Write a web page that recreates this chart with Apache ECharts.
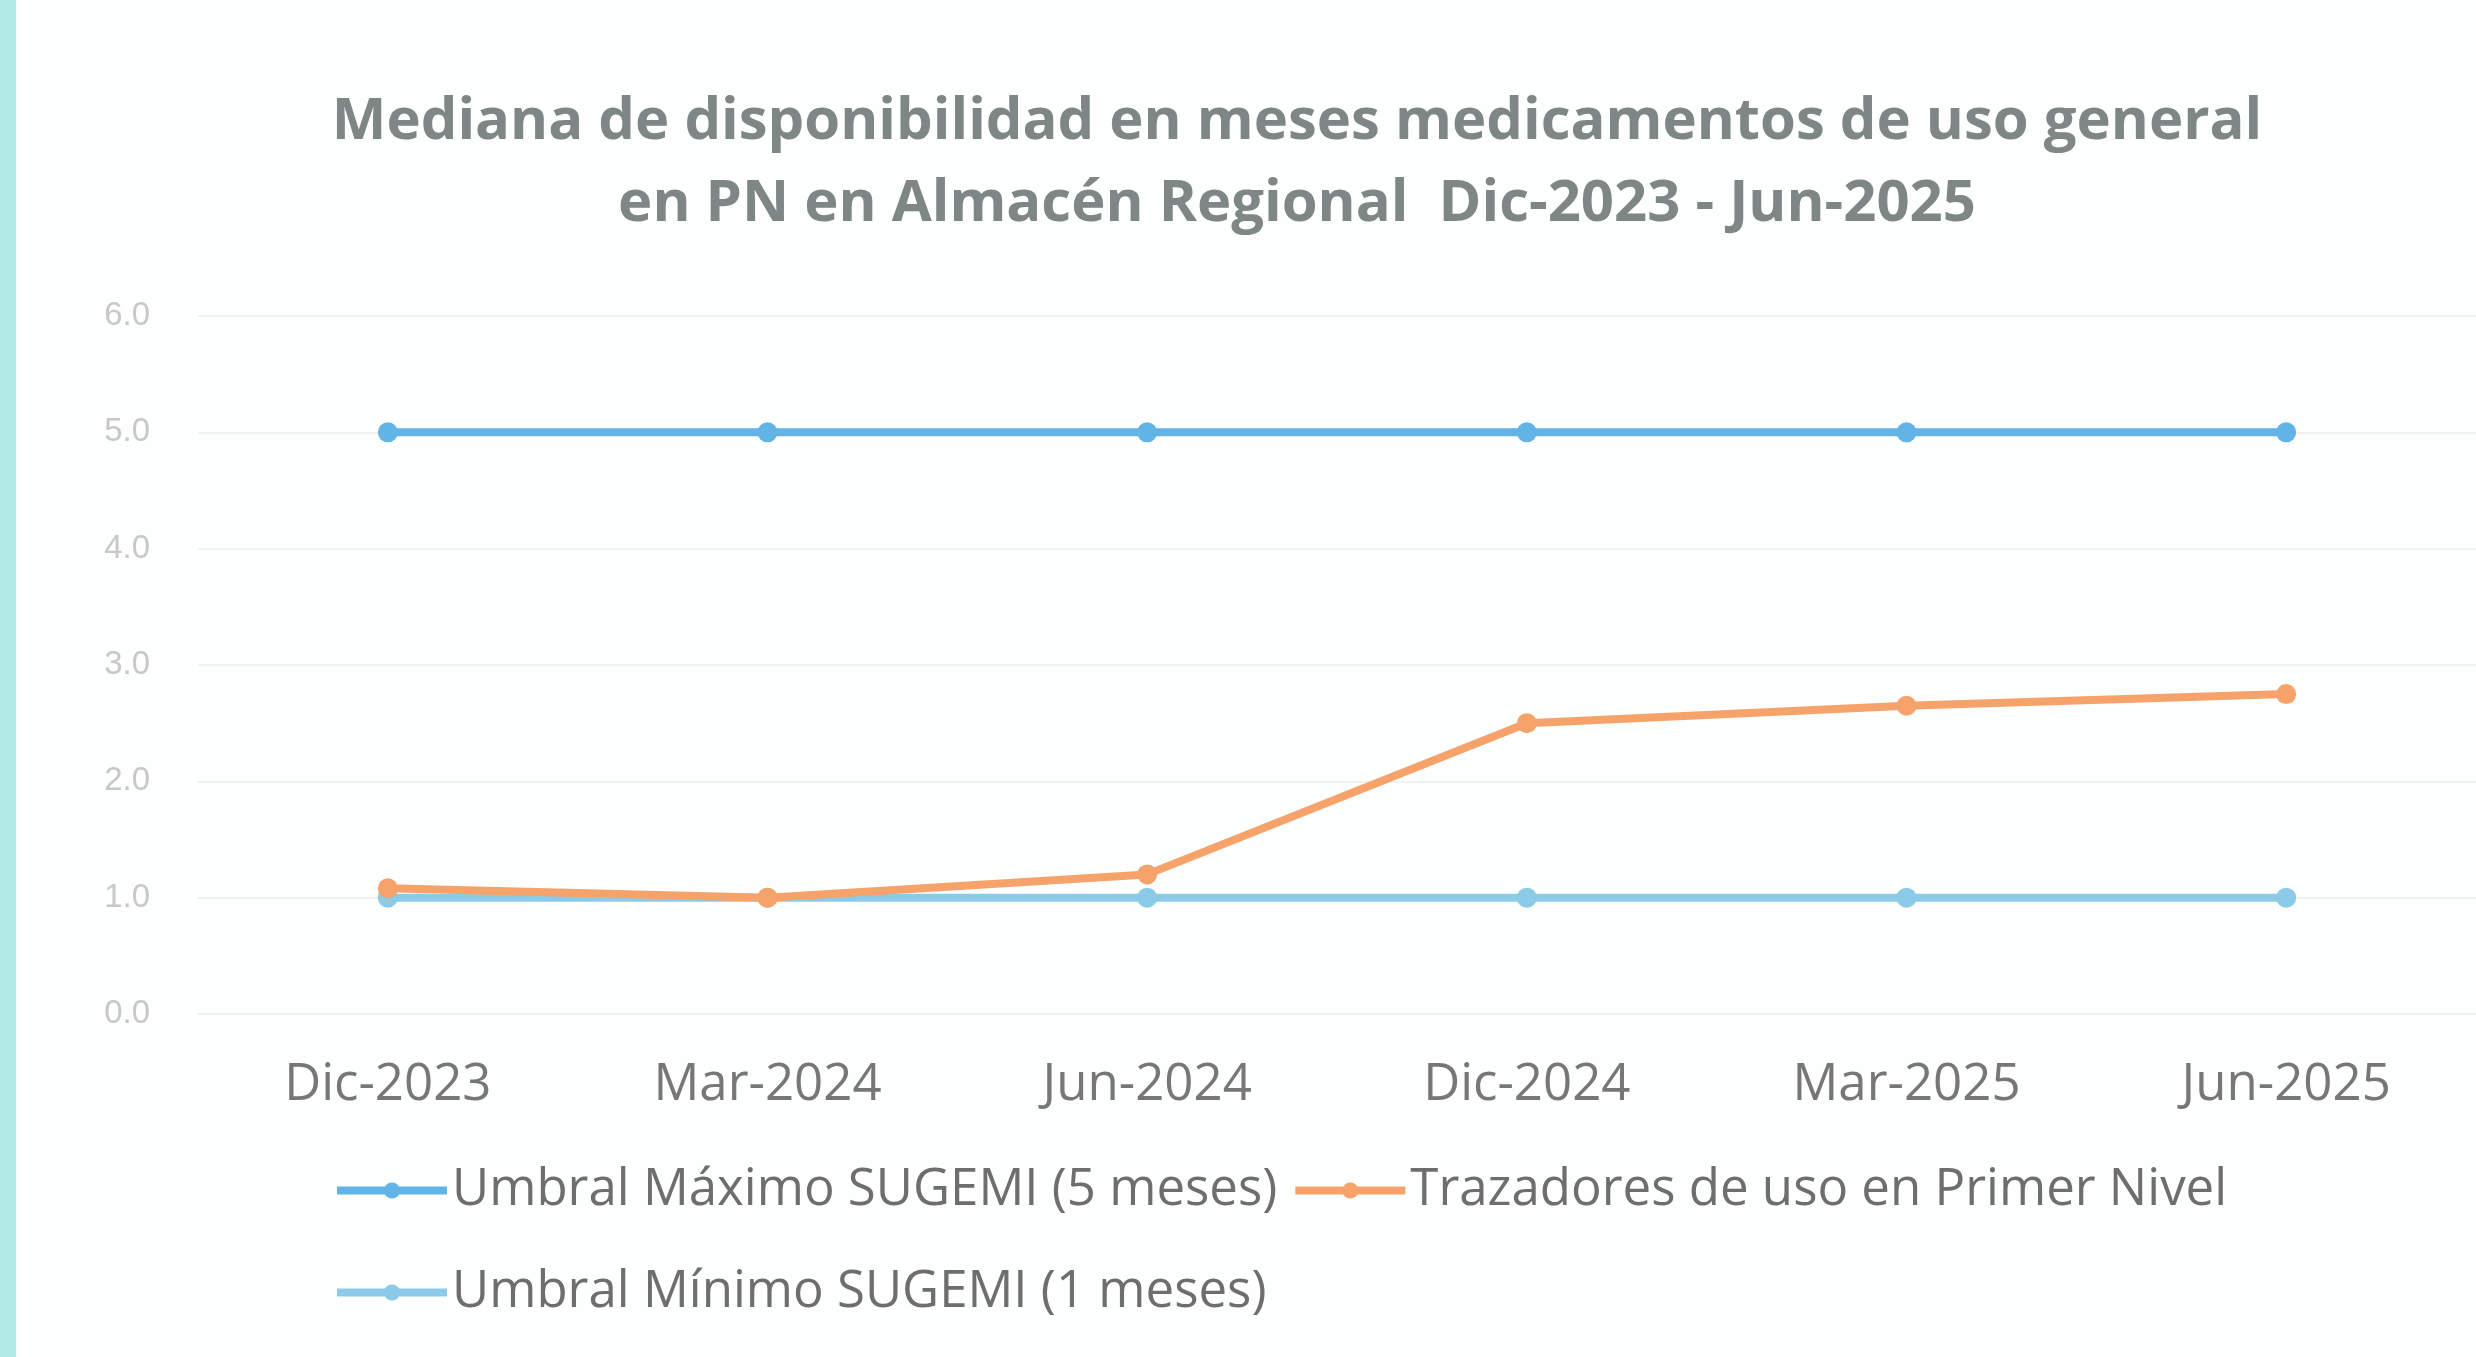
<!DOCTYPE html>
<html>
<head>
<meta charset="utf-8">
<script src="https://cdn.jsdelivr.net/npm/echarts@6/dist/echarts.min.js"></script>
<style>
  html, body { margin: 0; padding: 0; background: #fdfefe; }
  #chart { width: 2476px; height: 1357px; box-sizing: border-box; border-left: 16px solid #b2ece8; }
</style>
</head>
<body>
<div id="chart"></div>
<script>
const categories = ['Dic-2023', 'Mar-2024', 'Jun-2024', 'Dic-2024', 'Mar-2025', 'Jun-2025']
const maxThreshold = [5.0, 5.0, 5.0, 5.0, 5.0, 5.0]
const tracers = [1.08, 1.0, 1.2, 2.5, 2.65, 2.75]
const minThreshold = [1.0, 1.0, 1.0, 1.0, 1.0, 1.0]
const yTicks = [0, 1, 2, 3, 4, 5, 6]

const names = [
  'Umbral Máximo SUGEMI (5 meses)',
  'Trazadores de uso en Primer Nivel',
  'Umbral Mínimo SUGEMI (1 meses)',
]

const chart = echarts.init(document.getElementById('chart'))

const lineSeries = (name, data, color, z) => ({
  name,
  type: 'line',
  data,
  z,
  symbol: 'circle',
  symbolSize: 20,
  color,
  lineStyle: { width: 8, color },
  itemStyle: { color },
})

const legendText = { color: '#6e6e6e', fontSize: 51, fontFamily: 'Open Sans' }

const option = {
  backgroundColor: '#fdfefe',
  title: {
    text: 'Mediana de disponibilidad en meses medicamentos de uso general\nen PN en Almacén Regional  Dic-2023 - Jun-2025',
    left: 1276,
    textAlign: 'center',
    top: 76,
    textStyle: {
      color: '#7e8686',
      fontSize: 58,
      fontWeight: 'bold',
      fontFamily: 'Open Sans',
      lineHeight: 82,
    },
  },
  legend: [
    {
      data: [names[0], names[1]],
      left: 312,
      top: 1160,
      itemWidth: 110,
      itemHeight: 20,
      itemGap: 14,
      lineStyle: { width: 8 },
      textStyle: legendText,
    },
    {
      data: [names[2]],
      left: 312,
      top: 1262,
      itemWidth: 110,
      itemHeight: 20,
      lineStyle: { width: 8 },
      textStyle: legendText,
    },
  ],
  grid: { left: 182, right: -10, top: 316, bottom: 343 },
  xAxis: {
    type: 'category',
    data: categories,
    axisLine: { show: false },
    axisTick: { show: false },
    axisLabel: { color: '#777', fontSize: 51, fontFamily: 'Open Sans', margin: 46 },
  },
  yAxis: {
    type: 'value',
    min: yTicks[0],
    max: yTicks[yTicks.length - 1],
    interval: 1,
    axisLabel: {
      color: '#c8c8c8',
      fontSize: 33,
      margin: 48,
      formatter: (v) => v.toFixed(1),
    },
    splitLine: { lineStyle: { color: '#f1f1f1', width: 2 } },
  },
  series: [
    lineSeries(names[0], maxThreshold, '#62b3e6', 2),
    lineSeries(names[1], tracers, '#f6a36b', 4),
    lineSeries(names[2], minThreshold, '#8ccbe8', 3),
  ],
}

chart.setOption(option)
</script>
</body>
</html>
